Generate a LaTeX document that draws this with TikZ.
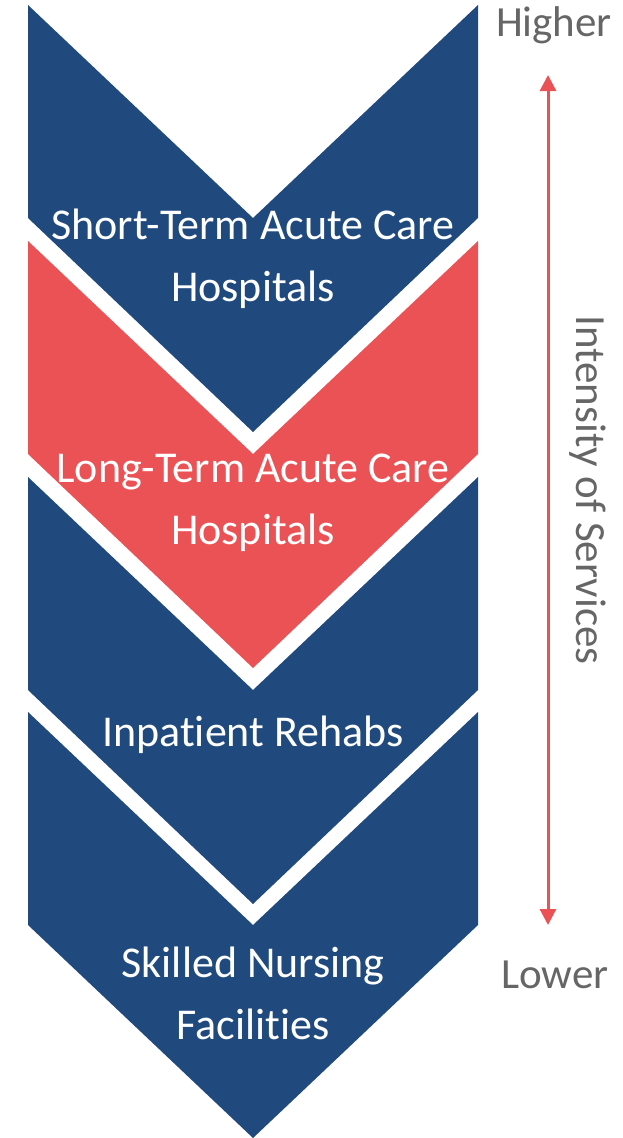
\documentclass[tikz,border=0pt]{standalone}
\usepackage{fontspec}
\setmainfont{Carlito}[RawFeature={-liga;-dlig;-clig}]
\usetikzlibrary{arrows.meta}
\definecolor{chevblue}{HTML}{204A7E}
\definecolor{chevred}{HTML}{EB5255}
\definecolor{labgray}{HTML}{666666}
\begin{document}
\begin{tikzpicture}[line cap=round,line join=round,x=1pt,y=-1pt,
  chevtext/.style={text=white,align=center,font=\fontsize{44}{62}\selectfont},
  sidetext/.style={text=labgray,font=\fontsize{43}{50}\selectfont}]
\useasboundingbox (0,0) rectangle (623,1138);
\fill [chevblue] (28,5)-- (253,218)-- (478,5)-- (478,218)-- (253,432)-- (28,218)-- cycle;
\fill [chevred] (28,241)-- (253,454)-- (478,241)-- (478,454)-- (253,668)-- (28,454)-- cycle;
\fill [chevblue] (28,477)-- (253,690)-- (478,477)-- (478,690)-- (253,904)-- (28,690)-- cycle;
\fill [chevblue] (28,712)-- (253,925)-- (478,712)-- (478,925)-- (253,1138)-- (28,925)-- cycle;
\node[chevtext] (stach) at (253,259) {Short-Term Acute Care\\Hospitals};
\node[chevtext] (ltach) at (253,503) {Long-Term Acute Care\\Hospitals};
\node[chevtext] (irf) at (253,735) {Inpatient Rehabs};
\node[chevtext] (snf) at (253,993) {Skilled Nursing\\Facilities};
\node[sidetext] (higher) at (554,25) {Higher};
\node[sidetext] (lower) at (555,975) {Lower};
\node[sidetext,rotate=-90] (intensity) at (588,490) {Intensity of Services};
\coordinate (top) at (548,75);
\coordinate (bot) at (548,925);
\draw [chevred,line width=3pt,{Triangle[width=16pt,length=16pt]}-{Triangle[width=16pt,length=16pt]}] (top)-- (bot);
\end{tikzpicture}
\end{document}
